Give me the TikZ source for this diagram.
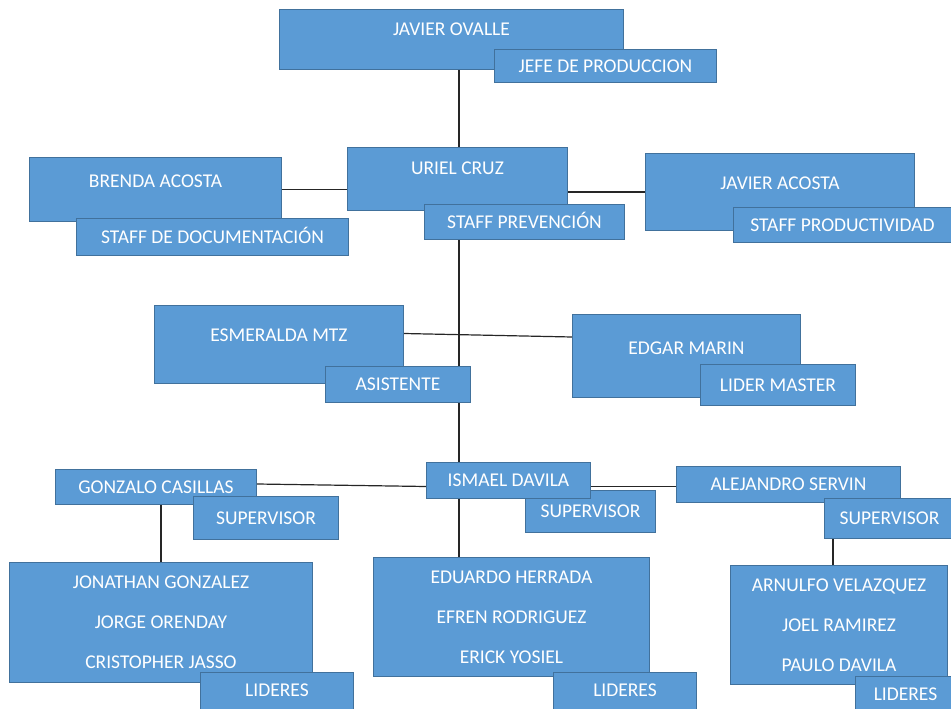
\documentclass[tikz,border=0pt]{standalone}
\usepackage{fontspec}
\setmainfont{Carlito}
\usepackage{tikz}
\usetikzlibrary{backgrounds}

\definecolor{azul}{HTML}{5B9BD5}
\definecolor{borde}{HTML}{41719C}
\definecolor{linea}{HTML}{262626}

\tikzset{
  caja/.style={draw=borde, fill=azul, text=white, line width=1pt, anchor=north west,
    inner ysep=0pt, font=\fontsize{19.5}{40}\selectfont},
  cargo/.style={caja, text height=12.6pt, text depth=0pt},
  equipo/.style={caja, align=center},
  enlace/.style={draw=linea, line width=1.2pt}
}

\begin{document}
\begin{tikzpicture}[x=1pt,y=-1pt]
      \useasboundingbox (0,0) rectangle (951,709);
      \node[caja, minimum width=344pt, text height=26.3pt, text depth=33.7pt] (ovalle) at (279,9) {JAVIER OVALLE};
      \node[cargo, minimum width=222pt, minimum height=33pt] (produccion) at (494,49) {JEFE DE PRODUCCION};

      \node[caja, minimum width=220pt, text height=27.3pt, text depth=35.7pt] (uriel) at (347,147) {URIEL CRUZ};
      \node[cargo, minimum width=200pt, minimum height=35pt] (prevencion) at (424,204) {STAFF PREVENCIÓN};
      \node[caja, minimum width=252pt, text height=30.3pt, text depth=33.7pt] (brenda) at (29,157) {BRENDA ACOSTA};
      \node[cargo, minimum width=272pt, minimum height=37pt] (documentacion) at (76,218) {STAFF DE DOCUMENTACIÓN};
      \node[caja, minimum width=269pt, text height=35.8pt, text depth=41.2pt] (jacosta) at (645,153) {JAVIER ACOSTA};
      \node[cargo, minimum width=218pt, minimum height=35pt] (productividad) at (733,207) {STAFF PRODUCTIVIDAD};

      \node[caja, minimum width=249pt, text height=36.3pt, text depth=41.7pt] (esmeralda) at (154,305) {ESMERALDA MTZ};
      \node[cargo, minimum width=145pt, minimum height=36pt] (asistente) at (325,366) {ASISTENTE};
      \node[caja, minimum width=228pt, text height=39.8pt, text depth=43.2pt] (edgar) at (572,314) {EDGAR MARIN};
      \node[cargo, minimum width=155pt, minimum height=41pt] (master) at (700,364) {LIDER MASTER};

      \node[cargo, minimum width=130pt, minimum height=42pt] (supB) at (525,490) {SUPERVISOR};
      \node[cargo, minimum width=164pt, minimum height=36pt] (ismael) at (426,462) {ISMAEL DAVILA};
      \node[cargo, minimum width=201pt, minimum height=35pt] (gonzalo) at (55,469) {GONZALO CASILLAS};
      \node[cargo, minimum width=145pt, minimum height=43pt] (supA) at (193,496) {SUPERVISOR};
      \node[cargo, minimum width=224pt, minimum height=36pt] (alejandro) at (676,466) {ALEJANDRO SERVIN};
      \node[cargo, minimum width=130pt, minimum height=40pt] (supC) at (824,498) {SUPERVISOR};

      \node[equipo, minimum width=303pt, minimum height=120pt] (equipoA) at (9,562)
        {JONATHAN GONZALEZ\\JORGE ORENDAY\\CRISTOPHER JASSO};
      \node[caja, minimum width=153pt, text height=24.3pt, text depth=20pt] (lideresA) at (200,672) {LIDERES};
      \node[equipo, minimum width=276pt, minimum height=119pt] (equipoB) at (373,557)
        {EDUARDO HERRADA\\EFREN RODRIGUEZ\\ERICK YOSIEL};
      \node[caja, minimum width=143pt, text height=24.3pt, text depth=20pt] (lideresB) at (553,672) {LIDERES};
      \node[equipo, minimum width=217pt, minimum height=119pt] (equipoC) at (730,565)
        {ARNULFO VELAZQUEZ\\JOEL RAMIREZ\\PAULO DAVILA};
      \node[caja, minimum width=100pt, text height=23.8pt, text depth=20pt] (lideresC) at (855,676) {LIDERES};

      \begin{scope}[on background layer]
        \coordinate (eje) at (459,300);
        \coordinate (ramaC) at ([xshift=-6pt]equipoC.north);
        \draw[enlace] (ovalle.south -| eje) -- (uriel.north -| eje);
        \draw[enlace] (prevencion.south -| eje) -- (ismael.north -| eje);
        \draw[enlace] (ismael.south -| eje) -- (equipoB.north -| eje);
        \draw[enlace] (brenda.east) -- (brenda.east -| uriel.west);
        \draw[enlace] (jacosta.west -| uriel.east) -- (jacosta.west);
        \draw[enlace] ([yshift=11pt]esmeralda.east) -- ([yshift=19pt]edgar.west);
        \draw[enlace] ([yshift=3pt]gonzalo.east) -- ([yshift=-6pt]ismael.west);
        \draw[enlace] ([yshift=-6pt]ismael.east) -- ([yshift=-2pt]alejandro.west);
        \draw[enlace] (gonzalo.south -| equipoA.north) -- (equipoA.north);
        \draw[enlace] (supC.south -| ramaC) -- (ramaC);
      \end{scope}
    \end{tikzpicture}
\end{document}
